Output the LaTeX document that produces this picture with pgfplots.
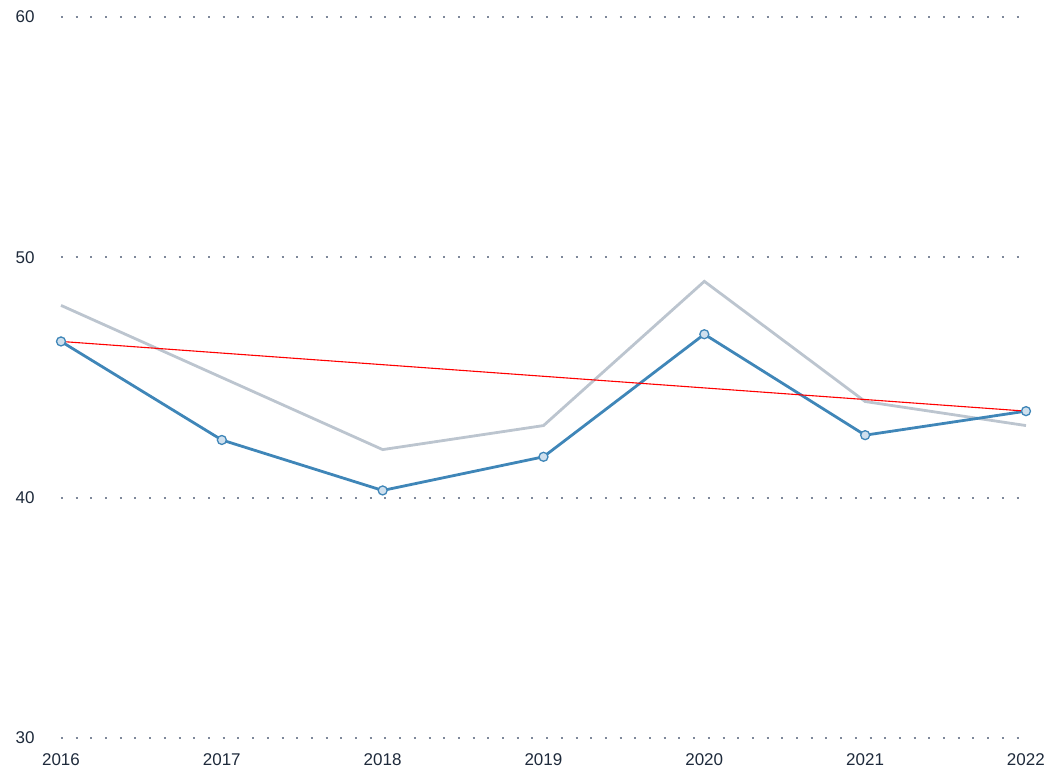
\documentclass[border=0pt]{standalone}
\usepackage{pgfplots}
\pgfplotsset{compat=1.18}
\usepackage{fontspec}
\setmainfont{Liberation Sans}
\definecolor{txt}{HTML}{1E2A3B}
\definecolor{gridc}{HTML}{7E889A}
\definecolor{blueline}{HTML}{3F86B8}
\definecolor{bluefill}{HTML}{CFE0EE}
\definecolor{grayline}{HTML}{BCC5CF}
\begin{document}
\begin{tikzpicture}
\useasboundingbox (-61pt,-32pt) rectangle (988pt,738pt);
\begin{axis}[
  at={(0pt,0pt)}, anchor=south west,
  scale only axis, width=965pt, height=721pt,
  xmin=2016, xmax=2022, ymin=30, ymax=60,
  xtick={2016,...,2022}, ytick={30,40,50,60},
  xticklabel style={/pgf/number format/1000 sep={}},
  /pgf/number format/assume math mode=true,
  tick label style={font=\fontsize{17}{20}\selectfont, text=txt},
  xticklabel style={yshift=-12pt},
  yticklabel style={xshift=-23pt},
  axis line style={draw=none},
  major tick length=0pt,
  ymajorgrids,
  grid style={gridc, line width=2pt, dash pattern=on 2pt off 12.7pt},
  clip=false,
]
\addplot[grayline, line width=2.8pt, mark=none] coordinates {
 (2016,48.0) (2017,45.0) (2018,42.0) (2019,43.0) (2020,49.0) (2021,44.0) (2022,43.0)};
\addplot[blueline, line width=2.8pt, mark=*, mark size=4.5pt,
  mark options={fill=bluefill, draw=blueline, line width=1.3pt}] coordinates {
 (2016,46.5) (2017,42.4) (2018,40.3) (2019,41.7) (2020,46.8) (2021,42.6) (2022,43.6)};
\addplot[red, line width=1.1pt, mark=none] coordinates {(2016,46.5) (2022,43.6)};
\end{axis}
\end{tikzpicture}
\end{document}
